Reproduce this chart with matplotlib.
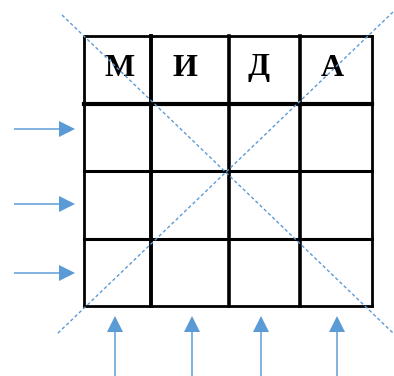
import matplotlib
matplotlib.use('Agg')
import matplotlib.pyplot as plt

# сетка 4x4, координаты в пикселях картинки
col_edges = [84, 151, 229, 300, 372]
row_edges = [36, 104, 171, 239, 306]
row_lw = [2.0, 3.0, 2.2, 2.2, 2.0]
col_lw = [2.0, 2.8, 2.6, 2.6, 2.0]
letters = ['М', 'И', 'Д', 'А']
letter_shift = [2, -5, -6, -4]

# диагонали (пунктир)
diag1 = ([62, 393], [15, 333])
diag2 = ([393, 57], [12, 334])

# стрелки слева (вправо) и снизу (вверх)
left_arrow_y = [129, 204, 273]
bottom_arrow_x = [115, 192, 261, 337]

blue = '#5B9BD5'

fig = plt.figure(figsize=(3.94, 3.76), dpi=100)
ax = fig.add_axes([0, 0, 1, 1])
ax.set_xlim(0, 394)
ax.set_ylim(376, 0)
ax.axis('off')

for y, lw in zip(row_edges, row_lw):
    ax.plot([col_edges[0], col_edges[-1]], [y, y], color='black', lw=lw,
            solid_capstyle='projecting', zorder=2)
for x, lw in zip(col_edges, col_lw):
    ax.plot([x, x], [row_edges[0], row_edges[-1]], color='black', lw=lw,
            solid_capstyle='projecting', zorder=2)

for i, s in enumerate(letters):
    cx = (col_edges[i] + col_edges[i + 1]) / 2 + letter_shift[i]
    cy = 68
    ax.text(cx, cy, s, ha='center', va='center', fontsize=23,
            fontweight='bold', family=['Liberation Serif', 'DejaVu Serif'],
            zorder=3)

for xs, ys in (diag1, diag2):
    ax.plot(xs, ys, color=blue, lw=1.0, linestyle=(0, (2.4, 1.8)), zorder=4)

for y in left_arrow_y:
    ax.arrow(14, y, 61, 0, width=1.5, head_width=16, head_length=16,
             length_includes_head=True, color=blue, lw=0)
for x in bottom_arrow_x:
    ax.arrow(x, 378, 0, -62, width=1.5, head_width=16, head_length=16,
             length_includes_head=True, color=blue, lw=0)

plt.savefig('out.png', dpi=100)
